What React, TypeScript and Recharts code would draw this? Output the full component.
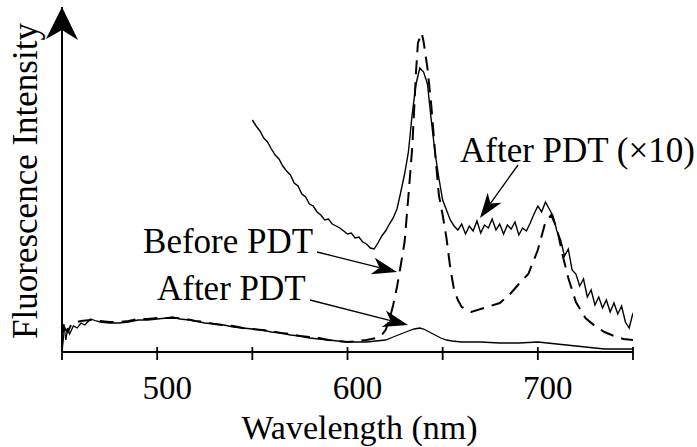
import React from 'react';
import {
  LineChart, Line, XAxis, YAxis, ReferenceLine, ReferenceDot,
} from 'recharts';

// wavelength (nm) / intensity (arb. units, 0..345)
const afterNm = [
  450, 451, 452, 453, 454, 456, 458, 460, 462, 465, 468, 470, 475, 480, 485, 490, 495, 500, 505, 508,
  512, 517, 520, 525, 530, 535, 540, 545, 550, 555, 560, 565, 570, 575, 580, 585, 590, 595, 600, 605,
  610, 615, 620, 624, 628, 632, 635, 638, 640, 643, 646, 649, 652, 655, 660, 665, 670, 680, 690, 700,
  705, 710, 715, 720, 725, 730, 735, 740, 745, 750,
];
const afterVal = [
  2, 28, 12, 24, 18, 26, 24, 29, 27, 33, 31, 30, 29, 29, 30, 32, 32, 33, 34, 35,
  33, 32, 31, 29, 28, 27, 25, 24, 23, 22, 20, 19, 17, 16, 14, 13, 12, 11, 10, 10,
  10, 11, 12, 15, 18, 21, 23, 24, 23, 20, 17, 14, 12, 11, 10, 10, 10, 9, 9, 10,
  9, 8, 7, 6, 5, 4, 3, 3, 3, 3,
];

const beforeNm = [
  450, 451, 453, 455, 458, 460, 465, 470, 475, 480, 485, 490, 495, 500, 505, 510, 515, 520, 525, 530,
  535, 540, 545, 550, 555, 560, 565, 570, 575, 580, 585, 590, 595, 600, 605, 610, 615, 618, 620, 622,
  624, 626, 628, 630, 632, 634, 636, 637, 639, 640, 642, 644, 646, 648, 650, 652, 654, 656, 658, 660,
  665, 670, 675, 680, 685, 690, 695, 700, 704, 707, 710, 713, 716, 720, 725, 730, 735, 740, 745, 750,
];
const beforeVal = [
  3, 25, 20, 28, 30, 31, 32, 31, 30, 30, 31, 33, 33, 34, 34, 34, 33, 31, 30, 28,
  27, 26, 24, 23, 22, 21, 19, 18, 16, 15, 14, 12, 11, 10, 11, 12, 14, 17, 22, 32,
  47, 65, 87, 110, 156, 204, 280, 309, 319, 310, 284, 247, 200, 157, 137, 114, 84, 62, 52, 45,
  40, 43, 46, 49, 57, 68, 78, 102, 130, 137, 124, 97, 74, 50, 34, 26, 20, 16, 13, 12,
];

const x10Nm = [
  550, 552, 554, 556, 558, 560, 562, 564, 566, 568, 570, 572, 574, 576, 578, 580, 582, 584, 586, 588,
  590, 592, 594, 596, 598, 600, 602, 604, 606, 608, 610, 612, 614, 616, 618, 620, 622, 624, 626, 628,
  630, 632, 634, 636, 638, 640, 642, 644, 646, 648, 650, 652, 654, 656, 658, 660, 662, 664, 666, 668,
  670, 672, 674, 676, 678, 680, 682, 684, 686, 688, 690, 692, 694, 696, 698, 700, 702, 704, 706, 708,
  710, 712, 714, 716, 718, 720, 722, 724, 726, 728, 730, 732, 734, 736, 738, 740, 742, 744, 746, 748,
  750,
];
const x10Val = [
  232, 226, 221, 214, 210, 203, 197, 193, 186, 181, 177, 169, 166, 158, 155, 148, 146, 140, 137, 132,
  133, 128, 126, 124, 121, 118, 119, 114, 115, 110, 108, 104, 103, 109, 116, 121, 128, 134, 143, 160,
  178, 200, 238, 268, 284, 280, 268, 232, 199, 174, 152, 142, 132, 126, 122, 128, 118, 126, 121, 131,
  119, 127, 124, 133, 122, 128, 118, 127, 123, 130, 117, 124, 121, 129, 138, 146, 140, 150, 143, 136,
  121, 112, 96, 103, 82, 78, 66, 73, 55, 62, 47, 55, 44, 52, 40, 49, 38, 46, 30, 24,
  39,
];

const xTicks = [450, 500, 550, 600, 650, 700, 750];
const labeledTicks = [500, 600, 700];

// annotation texts and arrows, in data coordinates
const notes = [
  { text: 'Before PDT', nm: 492.6, v: 99 },
  { text: 'After PDT', nm: 499.9, v: 52 },
  { text: 'After PDT (\u00d710)', nm: 659.1, v: 190 },
];
const arrows = [
  { from: [584, 100], to: [626, 80] },
  { from: [580.3, 52], to: [631.8, 27] },
  { from: [689.6, 187], to: [669.6, 134] },
];

const FONT = '"Liberation Serif", "Times New Roman", serif';

const toRows = (nm: number[], vals: number[]) => nm.map((n, i) => ({ nm: n, v: vals[i] }));
const afterData = toRows(afterNm, afterVal);
const beforeData = toRows(beforeNm, beforeVal);
const x10Data = toRows(x10Nm, x10Val);

const Arrow = (p: any) => {
  const { x1, y1, x2, y2 } = p;
  const dx = x2 - x1;
  const dy = y2 - y1;
  const len = Math.sqrt(dx * dx + dy * dy) || 1;
  const ux = dx / len;
  const uy = dy / len;
  const L = 25;
  const W = 8.5;
  const bx = x2 - ux * L;
  const by = y2 - uy * L;
  const nx = x2 - ux * (L - 7);
  const ny = y2 - uy * (L - 7);
  const head = `M${x2},${y2} L${bx - uy * W},${by + ux * W} L${nx},${ny} L${bx + uy * W},${by - ux * W} Z`;
  return (
    <g>
      <line x1={x1} y1={y1} x2={nx} y2={ny} stroke="#000" strokeWidth={1.3} />
      <path d={head} fill="#000" />
    </g>
  );
};

const XTick = (p: any) => {
  const { x, y, payload } = p;
  const val = payload.value;
  return (
    <g>
      <line x1={x} y1={y - 5} x2={x} y2={y + 8} stroke="#000" strokeWidth={1.8} />
      {labeledTicks.includes(val) && (
        <text x={x + 10} y={y + 47} textAnchor="middle" fontFamily={FONT} fontSize={33} fill="#000">
          {val}
        </text>
      )}
    </g>
  );
};

const YLabel = (p: any) => {
  const vb = p.viewBox;
  const ax = vb.x + vb.width;
  const top = vb.y;
  return (
    <g>
      <path
        d={`M${ax},${top} L${ax + 16},${top + 33} L${ax},${top + 23} L${ax - 16},${top + 32} Z`}
        fill="#000"
      />
      <text
        x={37}
        y={181}
        transform="rotate(-90 37 181)"
        textAnchor="middle"
        fontFamily={FONT}
        fontSize={35}
        fill="#000"
      >
        Fluorescence Intensity
      </text>
    </g>
  );
};

const XLabel = (p: any) => {
  const vb = p.viewBox;
  return (
    <text
      x={vb.x + vb.width / 2 + 12}
      y={vb.y + 87}
      textAnchor="middle"
      fontFamily={FONT}
      fontSize={34}
      fill="#000"
    >
      Wavelength (nm)
    </text>
  );
};

export default function App() {
  return (
    <div style={{ position: 'absolute', left: 0, top: 0, background: '#fff' }}>
      <LineChart width={697} height={447} margin={{ top: 7, right: 64, bottom: 0, left: 0 }}>
        <XAxis
          type="number"
          dataKey="nm"
          domain={[450, 750]}
          ticks={xTicks}
          interval={0}
          allowDataOverflow
          height={95}
          tickSize={0}
          tickMargin={0}
          tickLine={false}
          tick={<XTick />}
          axisLine={{ stroke: '#000', strokeWidth: 2 }}
          label={{ content: XLabel }}
        />
        <YAxis
          type="number"
          domain={[0, 345]}
          allowDataOverflow
          width={62}
          tick={false}
          tickLine={false}
          axisLine={{ stroke: '#000', strokeWidth: 2 }}
          label={{ content: YLabel }}
        />
        <Line
          data={beforeData}
          dataKey="v"
          type="linear"
          stroke="#000"
          strokeWidth={2}
          strokeDasharray="14 8"
          dot={false}
          isAnimationActive={false}
        />
        <Line
          data={afterData}
          dataKey="v"
          type="linear"
          stroke="#000"
          strokeWidth={1.3}
          dot={false}
          isAnimationActive={false}
        />
        <Line
          data={x10Data}
          dataKey="v"
          type="linear"
          stroke="#000"
          strokeWidth={1.4}
          dot={false}
          isAnimationActive={false}
        />
        {arrows.map((a, i) => (
          <ReferenceLine
            key={`a${i}`}
            segment={[{ x: a.from[0], y: a.from[1] }, { x: a.to[0], y: a.to[1] }]}
            ifOverflow="visible"
            shape={Arrow}
          />
        ))}
        {notes.map((n, i) => (
          <ReferenceDot
            key={`n${i}`}
            x={n.nm}
            y={n.v}
            ifOverflow="visible"
            shape={(p: any) => (
              <text x={p.cx} y={p.cy} fontFamily={FONT} fontSize={35} fill="#000">
                {n.text}
              </text>
            )}
          />
        ))}
      </LineChart>
    </div>
  );
}
